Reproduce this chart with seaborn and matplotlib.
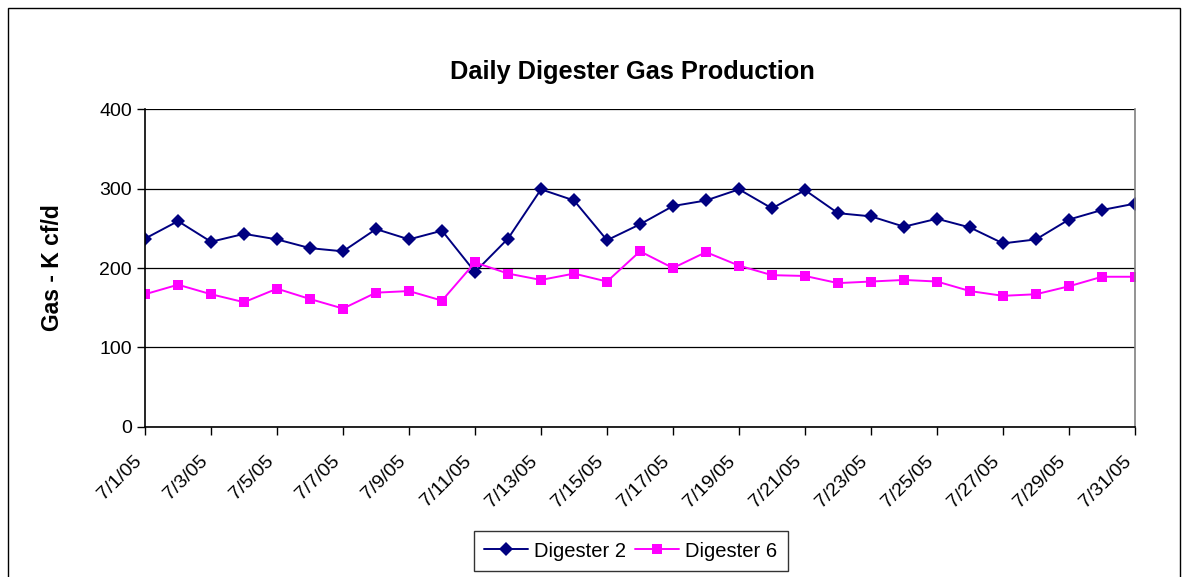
import pandas as pd
import matplotlib.pyplot as plt
import matplotlib.transforms as mtransforms
import seaborn as sns
from matplotlib.patches import Rectangle

# 날짜 (x축)
dates = ["7/1/05", "7/2/05", "7/3/05", "7/4/05", "7/5/05", "7/6/05", "7/7/05", "7/8/05",
         "7/9/05", "7/10/05", "7/11/05", "7/12/05", "7/13/05", "7/14/05", "7/15/05", "7/16/05",
         "7/17/05", "7/18/05", "7/19/05", "7/20/05", "7/21/05", "7/22/05", "7/23/05", "7/24/05",
         "7/25/05", "7/26/05", "7/27/05", "7/28/05", "7/29/05", "7/30/05", "7/31/05"]

# 가스 생산량 (K cf/d)
digester2 = [237, 259, 233, 243, 236, 225, 221, 249, 236, 247, 195,
             237, 299, 285, 235, 255, 278, 285, 299, 275,
             298, 269, 265, 252, 262, 251, 231, 236, 261, 273, 281]
digester6 = [167, 179, 167, 157, 174, 161, 149, 169, 171, 159, 207,
             193, 185, 193, 183, 221, 200, 220, 203, 191,
             190, 181, 183, 185, 183, 171, 165, 167, 177, 189, 189]

df = pd.DataFrame({
    "date": dates * 2,
    "gas": digester2 + digester6,
    "series": ["Digester 2"] * len(dates) + ["Digester 6"] * len(dates),
})

sns.set_style("white")
plt.rcParams["font.family"] = ["Liberation Sans", "DejaVu Sans"]
plt.rcParams["text.color"] = "black"
plt.rcParams["axes.labelcolor"] = "black"
plt.rcParams["xtick.color"] = "black"
plt.rcParams["ytick.color"] = "black"

fig = plt.figure(figsize=(11.83, 5.77), dpi=100)
ax = fig.add_axes([0.1226, 0.26, 0.8368, 0.551])

sns.lineplot(data=df, x="date", y="gas", hue="series", style="series",
             palette={"Digester 2": "#000080", "Digester 6": "#FF00FF"},
             markers={"Digester 2": "D", "Digester 6": "s"}, dashes=False,
             markersize=7, markeredgewidth=0, linewidth=1.4, ax=ax, legend=True)

ax.set_xlim(0, len(dates) - 1)
ax.set_ylim(0, 400)
ax.set_yticks([0, 100, 200, 300, 400])
ax.set_xticks(range(0, len(dates), 2))
ax.set_xticklabels(dates[::2], rotation=45, ha="right", rotation_mode="anchor")
ax.tick_params(axis="both", labelsize=14, direction="out", length=6, width=1,
               color="black", labelcolor="black", bottom=True, left=True)
ax.tick_params(axis="x", pad=6)
ax.yaxis.grid(True, color="black", linewidth=0.9)
ax.set_axisbelow(True)

# x축 라벨 위치 조정 (왼쪽 아래로 조금)
offset = mtransforms.ScaledTranslation(-0.12, -0.09, fig.dpi_scale_trans)
for lab in ax.get_xticklabels():
    lab.set_transform(lab.get_transform() + offset)

for s in ["left", "bottom"]:
    ax.spines[s].set_color("black")
    ax.spines[s].set_linewidth(1.2)
ax.spines["top"].set_visible(False)
ax.spines["right"].set_color("#808080")
ax.spines["right"].set_linewidth(1.2)

ax.set_xlabel("")
ax.set_ylabel("Gas - K cf/d", fontsize=16.5, fontweight="bold", labelpad=25)
fig.text(0.535, 0.875, "Daily Digester Gas Production", ha="center", va="center",
         fontsize=18.3, fontweight="bold")

handles, labels = ax.get_legend_handles_labels()
ax.legend(handles, labels, loc="center", bbox_to_anchor=(0.533, 0.045),
          bbox_transform=fig.transFigure, ncol=2, fontsize=14.5, frameon=True,
          fancybox=False, edgecolor="black", handlelength=2.2, columnspacing=0.45,
          handletextpad=0.3, borderpad=0.5, borderaxespad=0)
ax.get_legend().get_frame().set_linewidth(1)

# 바깥 테두리
fig.patches.append(Rectangle((8 / 1183, -0.05), 1172 / 1183, 1.05 - 8 / 577,
                             transform=fig.transFigure, fill=False,
                             edgecolor="black", linewidth=1))

fig.savefig("out.png", dpi=100)
